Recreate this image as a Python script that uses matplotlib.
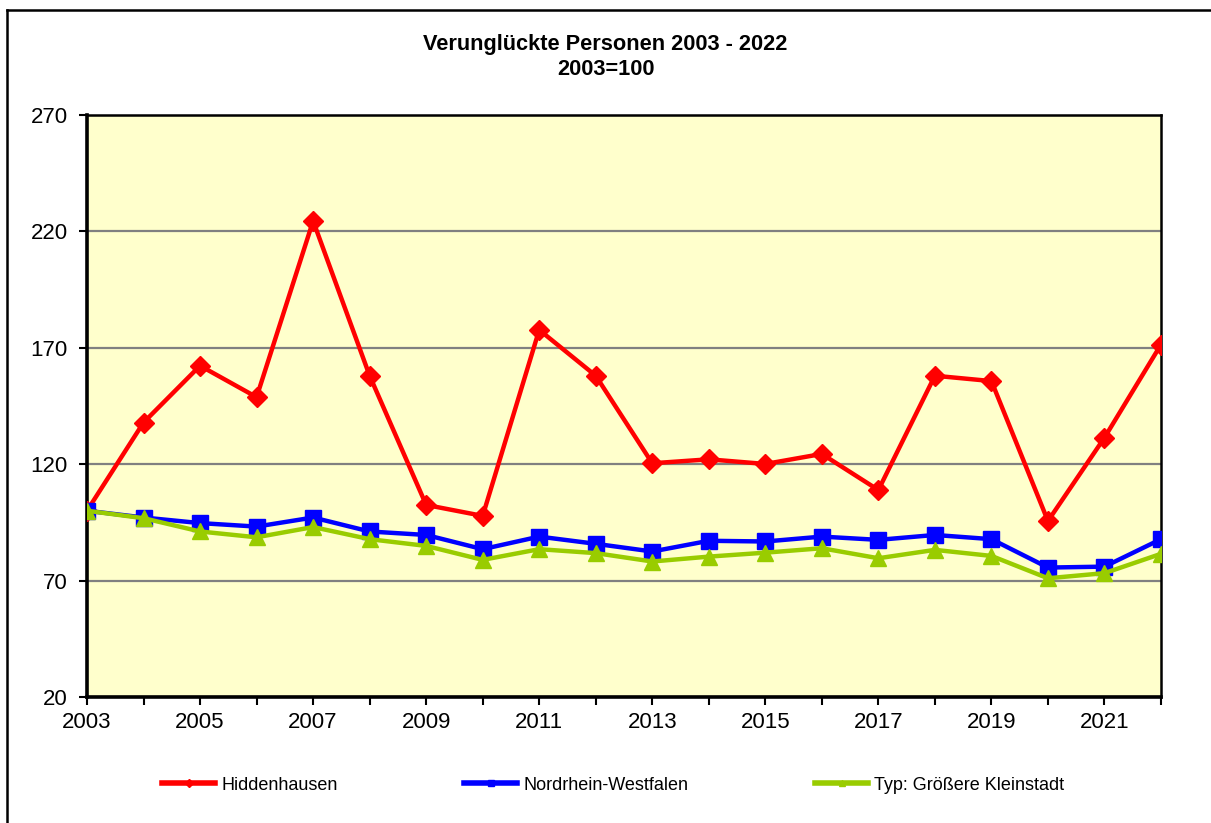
import matplotlib
matplotlib.use("Agg")
import matplotlib.pyplot as plt
from matplotlib.lines import Line2D

plt.rcParams['font.family'] = ['Liberation Sans', 'DejaVu Sans']

years = list(range(2003, 2023))
hiddenhausen = [100, 137.9, 162.3, 148.8, 224.5, 158.0, 102.5, 97.8, 177.7, 158.0,
                120.4, 122.1, 120.1, 124.4, 108.9, 158.0, 155.7, 95.6, 131.4, 171.4]
nrw = [100, 97.1, 94.7, 93.2, 97.1, 91.1, 89.6, 83.5, 88.9, 85.8,
       82.5, 87.1, 86.8, 88.9, 87.5, 89.6, 87.8, 75.6, 76.0, 87.8]
kleinstadt = [100, 96.8, 91.1, 88.6, 93.0, 87.8, 84.9, 78.9, 83.5, 81.8,
              78.2, 80.3, 82.0, 83.9, 79.6, 83.2, 80.6, 71.0, 73.2, 81.5]
labels = ['Hiddenhausen', 'Nordrhein-Westfalen', 'Typ: Größere Kleinstadt']
yticks = [20, 70, 120, 170, 220, 270]
xticklabels = list(range(2003, 2022, 2))

fig = plt.figure(figsize=(12.11, 8.23), dpi=100)
ax = fig.add_axes([87 / 1211, 1 - 697 / 823, (1161 - 87) / 1211, (697 - 115) / 823])
ax.set_facecolor('#FFFFCC')

lw = 3.2
ax.plot(years, hiddenhausen, color='#FF0000', lw=lw, marker='D', ms=10, zorder=3)
ax.plot(years, kleinstadt, color='#99CC00', lw=lw, marker='^', ms=12, zorder=4)
ax.plot(years, nrw, color='#0000FF', lw=lw, marker='s', ms=11.5, zorder=3)

ax.set_xlim(2003, 2022)
ax.set_ylim(20, 270)
ax.set_yticks(yticks)
ax.set_xticks(years, minor=True)
ax.set_xticks(xticklabels)
ax.grid(axis='y', color='#808080', lw=1.6, zorder=1)
ax.set_axisbelow(True)
ax.tick_params(axis='both', which='both', direction='out', length=6, width=1.5,
               labelsize=16, pad=5, color='black')
ax.tick_params(axis='y', pad=8)

for side in ['left', 'bottom']:
    ax.spines[side].set_linewidth(2.6)
for side in ['top', 'right']:
    ax.spines[side].set_linewidth(1.8)

fig.text(0.5, 1 - 57 / 823, 'Verunglückte Personen 2003 - 2022\n2003=100',
         ha='center', va='center', fontsize=15.7, fontweight='bold', linespacing=1.3)

handles = [
    Line2D([], [], color='#FF0000', lw=4, marker='D', ms=4),
    Line2D([], [], color='#0000FF', lw=4, marker='s', ms=5),
    Line2D([], [], color='#99CC00', lw=4, marker='^', ms=5),
]
fs = 13
fpx = fs * 100 / 72
fig.legend(handles, labels, loc='center left', bbox_to_anchor=(162 / 1211, 1 - 785 / 823),
           ncol=3, frameon=False, fontsize=fs, handlelength=53 / fpx,
           handletextpad=6 / fpx, columnspacing=127 / fpx, borderpad=0, borderaxespad=0)

# outer frame lines (chart border)
fig.add_artist(Line2D([7 / 1211, 7 / 1211], [0, 1 - 10 / 823], transform=fig.transFigure,
                      color='black', lw=1.8))
fig.add_artist(Line2D([7 / 1211, 1], [1 - 10 / 823, 1 - 10 / 823], transform=fig.transFigure,
                      color='black', lw=1.8))

fig.savefig('out.png', dpi=100)
